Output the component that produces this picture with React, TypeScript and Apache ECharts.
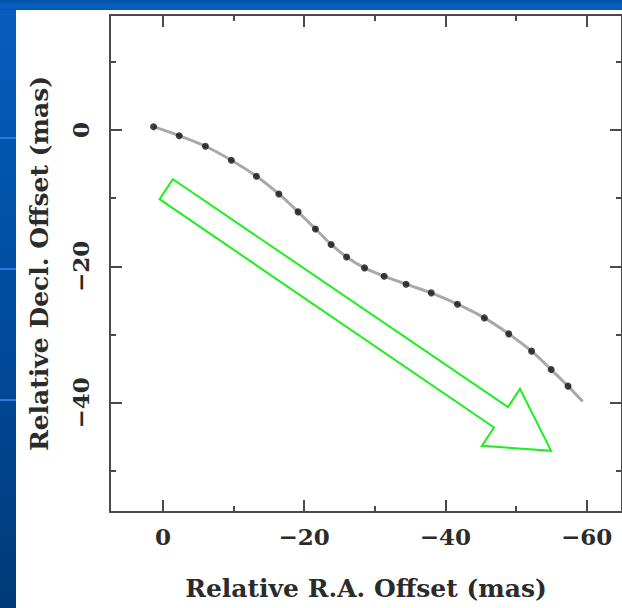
import React, { useEffect, useRef } from "react";
import * as echarts from "echarts";

// Relative R.A. / Decl. offsets (mas) of the measured positions
const raOffset = [1.33, -2.3, -6.01, -9.68, -13.23, -16.41, -19.13, -21.59, -23.81, -26.0, -28.54, -31.32, -34.42, -37.99, -41.7, -45.51, -48.96, -52.2, -54.97, -57.36];
const declOffset = [0.48, -0.84, -2.39, -4.44, -6.78, -9.38, -12.01, -14.51, -16.78, -18.61, -20.22, -21.44, -22.61, -23.88, -25.54, -27.55, -29.89, -32.42, -35.12, -37.55];
// fitted curve continues a little beyond the last point
const curveEndRA = [-59.44];
const curveEndDecl = [-39.81];

// green direction arrow outline (data coordinates)
const arrowRA = [-1.41, -48.86, -50.55, -54.97, -45.15, -46.88, 0.48];
const arrowDecl = [-7.22, -40.63, -37.95, -47.03, -46.3, -43.62, -10.15];

const xMajorTicks = [0, -20, -40, -60];
const xMinorTicks = [-10, -30, -50];
const yMajorTicks = [0, -20, -40];
const yMinorTicks = [10, -10, -30, -50];

const X_MIN = -65;
const X_MAX = 7.5;
const Y_MIN = -56;
const Y_MAX = 16.85;

const FONT = "DejaVu Serif";
const TEXT_COLOR = "#2b2b2b";
const AXIS_COLOR = "#4a4a4a";

const fmt = (v: number) => (v === 0 ? "0" : (v < 0 ? "\u2212" : "") + Math.abs(v));

function xAxisDef(position: "top" | "bottom", major: boolean, withLabels: boolean) {
  return {
    type: "value",
    position,
    min: X_MIN,
    max: X_MAX,
    inverse: true,
    splitLine: { show: false },
    axisLine: { show: major, onZero: false, lineStyle: { color: AXIS_COLOR, width: 2 } },
    axisTick: {
      show: true,
      inside: true,
      length: major ? 12 : 6,
      customValues: major ? xMajorTicks : xMinorTicks,
      lineStyle: { color: AXIS_COLOR, width: 2 },
    },
    axisLabel: withLabels
      ? {
          show: true,
          customValues: xMajorTicks,
          formatter: fmt,
          margin: 13,
          fontFamily: FONT,
          fontWeight: "bold",
          fontSize: 23,
          color: TEXT_COLOR,
        }
      : { show: false },
    name: withLabels ? "Relative R.A. Offset (mas)" : "",
    nameLocation: "middle",
    nameGap: 64,
    nameTextStyle: { fontFamily: FONT, fontWeight: "bold", fontSize: 25, color: TEXT_COLOR },
  };
}

function yAxisDef(position: "left" | "right", major: boolean, withLabels: boolean) {
  return {
    type: "value",
    position,
    min: Y_MIN,
    max: Y_MAX,
    splitLine: { show: false },
    axisLine: { show: major, onZero: false, lineStyle: { color: AXIS_COLOR, width: 2 } },
    axisTick: {
      show: true,
      inside: true,
      length: major ? 12 : 6,
      customValues: major ? yMajorTicks : yMinorTicks,
      lineStyle: { color: AXIS_COLOR, width: 2 },
    },
    axisLabel: withLabels
      ? {
          show: true,
          customValues: yMajorTicks,
          formatter: fmt,
          rotate: 90,
          margin: 18,
          fontFamily: FONT,
          fontWeight: "bold",
          fontSize: 23,
          color: TEXT_COLOR,
        }
      : { show: false },
    name: withLabels ? "Relative Decl. Offset (mas)" : "",
    nameLocation: "middle",
    nameGap: 58,
    nameTextStyle: { fontFamily: FONT, fontWeight: "bold", fontSize: 25, color: TEXT_COLOR },
  };
}

export default function App() {
  const ref = useRef<HTMLDivElement>(null);

  useEffect(() => {
    if (!ref.current) return;
    const chart = echarts.init(ref.current, null, { renderer: "svg" });

    const points = raOffset.map((x, i) => [x, declOffset[i]]);
    const curve = points.concat(curveEndRA.map((x, i) => [x, curveEndDecl[i]]));
    const arrow = arrowRA.map((x, i) => [x, arrowDecl[i]]);

    chart.setOption({
      animation: false,
      backgroundColor: "transparent",
      grid: { left: 110, top: 15, width: 514, height: 497, containLabel: false },
      xAxis: [
        xAxisDef("bottom", true, true),
        xAxisDef("bottom", false, false),
        xAxisDef("top", true, false),
        xAxisDef("top", false, false),
      ],
      yAxis: [
        yAxisDef("left", true, true),
        yAxisDef("left", false, false),
        yAxisDef("right", true, false),
        yAxisDef("right", false, false),
      ],
      series: [
        {
          type: "line",
          data: curve,
          smooth: 0.3,
          showSymbol: false,
          lineStyle: { color: "#a9a9a9", width: 3 },
          z: 2,
        },
        {
          type: "scatter",
          data: points,
          symbol: "circle",
          symbolSize: 7,
          itemStyle: { color: "#111111" },
          z: 3,
        },
        {
          type: "custom",
          data: [[0, 0]],
          clip: false,
          z: 4,
          renderItem: (_params: any, api: any) => ({
            type: "polygon",
            shape: { points: arrow.map((p) => api.coord(p)) },
            style: { fill: "none", stroke: "#1fee1f", lineWidth: 2 },
          }),
        },
      ],
    });

    return () => chart.dispose();
  }, []);

  const blueLine = (top: number) => (
    <div
      style={{ position: "absolute", left: 0, top, width: 16, height: 2, background: "#2b7ddc" }}
    />
  );

  return (
    <div
      style={{
        position: "fixed",
        left: 0,
        top: 0,
        width: 622,
        height: 608,
        overflow: "hidden",
        background: "linear-gradient(180deg, #0a5dbe 0%, #0050a6 40%, #003a78 100%)",
      }}
    >
      <div
        style={{
          position: "absolute",
          left: 0,
          top: 0,
          width: 622,
          height: 10,
          background: "linear-gradient(180deg, #0052a8 0%, #0a62c4 70%, #0058b4 100%)",
        }}
      />
      {blueLine(137)}
      {blueLine(268)}
      {blueLine(399)}
      <div
        style={{ position: "absolute", left: 16, top: 10, width: 606, height: 598, background: "#ffffff" }}
      />
      <div ref={ref} style={{ position: "absolute", left: 0, top: 0, width: 622, height: 608 }} />
    </div>
  );
}
